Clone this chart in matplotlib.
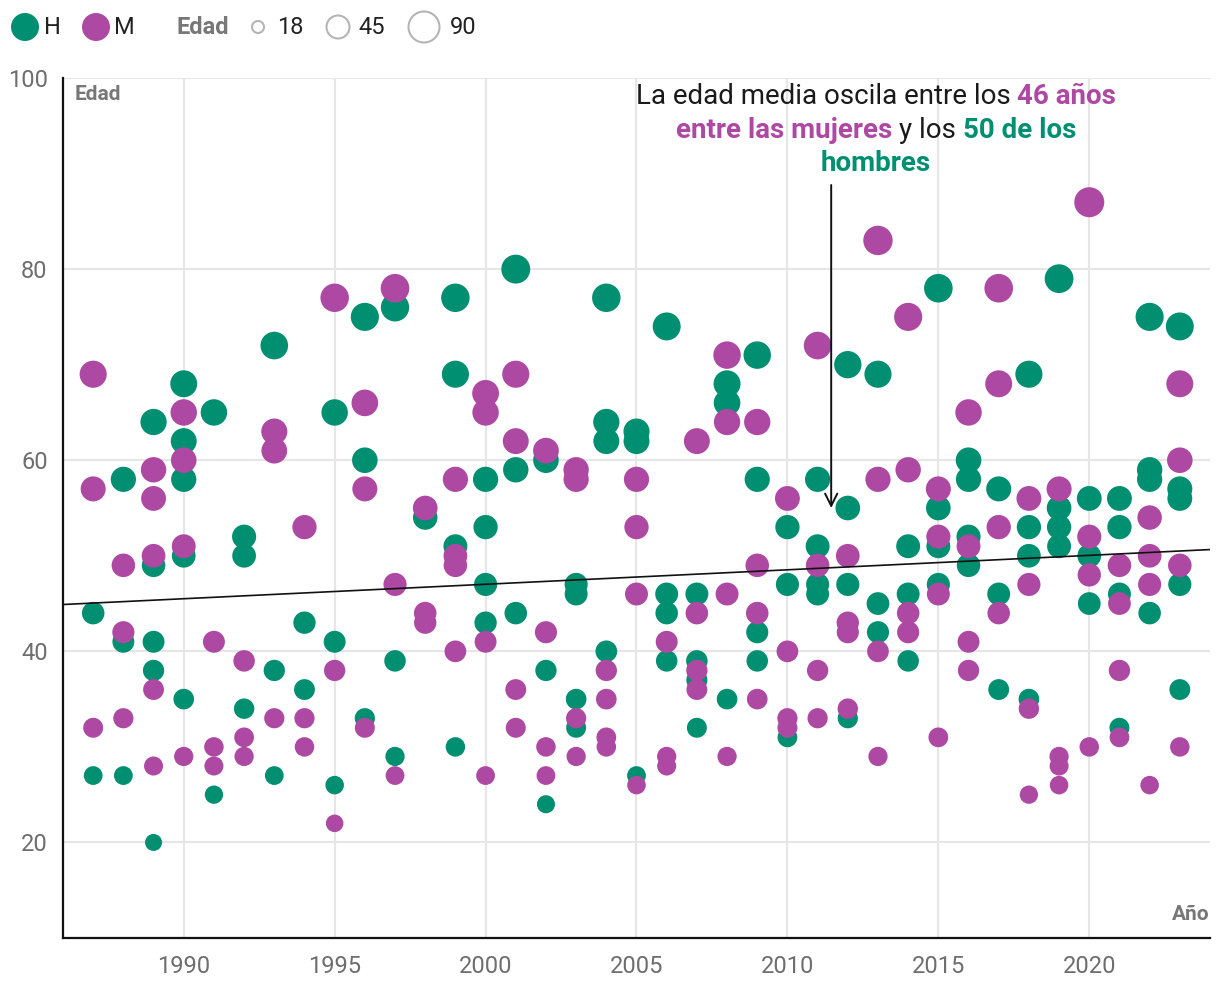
import matplotlib
matplotlib.use("Agg")
import matplotlib.pyplot as plt
import numpy as np

plt.rcParams['font.family'] = ['Roboto', 'DejaVu Sans']

# ---------------- data ----------------
years = [1987, 1988, 1989, 1990, 1991, 1992, 1993, 1994, 1995, 1996, 1997, 1998,
         1999, 2000, 2001, 2002, 2003, 2004, 2005, 2006, 2007, 2008, 2009, 2010,
         2011, 2012, 2013, 2014, 2015, 2016, 2017, 2018, 2019, 2020, 2021, 2022, 2023]

h_ages = [
    [44, 27], [58, 41, 27], [64, 49, 41, 38, 20], [68, 62, 58, 50, 35], [65, 25],
    [52, 50, 34], [72, 38, 27], [43, 36], [65, 41, 26], [75, 60, 33], [76, 39, 29],
    [54], [77, 69, 51, 30], [58, 53, 47, 43], [80, 59, 44], [60, 38, 24],
    [47, 46, 35, 32], [77, 64, 62, 40], [63, 62, 27], [74, 46, 44, 39],
    [46, 39, 37, 32], [68, 66, 35], [71, 58, 42, 39], [53, 47, 31],
    [58, 51, 47, 46], [70, 55, 47, 33], [69, 45, 42], [51, 46, 39],
    [78, 55, 51, 47], [60, 58, 52, 49], [57, 46, 36], [69, 53, 50, 35],
    [79, 55, 53, 51], [56, 50, 45], [56, 53, 46, 32], [75, 59, 58, 44],
    [74, 57, 56, 47, 36],
]

m_ages = [
    [69, 57, 32], [49, 42, 33], [59, 56, 50, 36, 28], [65, 60, 51, 29], [41, 30, 28],
    [39, 31, 29], [63, 61, 33], [53, 33, 30], [77, 38, 22], [66, 57, 32], [78, 47, 27],
    [55, 44, 43], [58, 50, 49, 40], [67, 65, 41, 27], [69, 62, 36, 32],
    [61, 42, 30, 27], [59, 58, 33, 29], [38, 35, 31, 30], [58, 53, 46, 26],
    [41, 29, 28], [62, 44, 38, 36], [71, 64, 46, 29], [64, 49, 44, 35],
    [56, 40, 33, 32], [72, 49, 38, 33], [50, 43, 42, 34], [83, 58, 40, 29],
    [75, 59, 44, 42], [57, 52, 46, 31], [65, 51, 41, 38], [78, 68, 53, 44],
    [56, 47, 34, 25], [57, 29, 28, 26], [87, 52, 48, 30], [49, 45, 38, 31],
    [54, 50, 47, 26], [68, 60, 49, 30],
]

trend_x = [1986, 2024]
trend_y = [44.9, 50.65]

legend_ages = [18, 45, 90]
series_labels = ['H', 'M']
x_ticks = [1990, 1995, 2000, 2005, 2010, 2015, 2020]
y_ticks = [20, 40, 60, 80, 100]

annot_year = 2011.45
annot_from = 88.8
annot_to = 55.0

# ---------------- style ----------------
GREEN = '#008F71'
PURPLE = '#AE49A3'
GRAY_TXT = '#6e6e6e'
GRID = '#e6e6e6'

W, H = 1220, 1008
DPI = 100


def size_of(age):
    # marker area (pt^2) grows linearly with age
    d_px = np.sqrt(9.12 * (np.asarray(age, dtype=float) + 11.7))
    return (d_px * 72.0 / DPI) ** 2


fig = plt.figure(figsize=(W / DPI, H / DPI), dpi=DPI)
ax = fig.add_axes([63 / W, 1 - 938 / H, (1210 - 63) / W, (938 - 78) / H])

ax.set_xlim(1986, 2024)
ax.set_ylim(10, 100)
ax.set_xticks(x_ticks)
ax.set_yticks(y_ticks)
ax.tick_params(axis='both', length=0, labelsize=17, labelcolor=GRAY_TXT)
ax.tick_params(axis='x', pad=12)
ax.tick_params(axis='y', pad=11)
ax.grid(True, color=GRID, linewidth=1.5, zorder=0)
ax.set_axisbelow(True)
for s in ['top', 'right']:
    ax.spines[s].set_visible(False)
for s in ['left', 'bottom']:
    ax.spines[s].set_color('#111111')
    ax.spines[s].set_linewidth(1.6)

hx = [y for y, ages in zip(years, h_ages) for _ in ages]
hy = [a for ages in h_ages for a in ages]
mx = [y for y, ages in zip(years, m_ages) for _ in ages]
my = [a for ages in m_ages for a in ages]

ax.scatter(hx, hy, s=size_of(hy), color=GREEN, edgecolors='none', zorder=3)
ax.scatter(mx, my, s=size_of(my), color=PURPLE, edgecolors='none', zorder=4)

ax.plot(trend_x, trend_y, color='#111111', linewidth=1.2, zorder=5)

ax.annotate('', xy=(annot_year, annot_to), xytext=(annot_year, annot_from),
            arrowprops=dict(arrowstyle='->', color='#111111', lw=1.4,
                            mutation_scale=22, shrinkA=0, shrinkB=0), zorder=6)

# ---------------- overlay in pixel coords ----------------
ov = fig.add_axes([0, 0, 1, 1])
ov.set_xlim(0, W)
ov.set_ylim(H, 0)
ov.axis('off')
ov.patch.set_visible(False)

ov.text(75, 100, 'Edad', fontsize=15, fontweight='bold', color='#777777',
        ha='left', va='baseline')
ov.text(1210, 920, 'Año', fontsize=15, fontweight='bold', color='#777777',
        ha='right', va='baseline')

# legend
cy = 27
ov.scatter([25], [cy], s=(28 * 0.72) ** 2, color=GREEN, edgecolors='none')
ov.text(44, cy, series_labels[0], fontsize=17, color='#222222', ha='left', va='center')
ov.scatter([96], [cy], s=(28 * 0.72) ** 2, color=PURPLE, edgecolors='none')
ov.text(114, cy, series_labels[1], fontsize=17, color='#222222', ha='left', va='center')
ov.text(177, cy, 'Edad', fontsize=17, fontweight='bold', color='#777777',
        ha='left', va='center')
leg_cx = [258, 338, 424]
leg_d = [12, 23, 31]
leg_tx = [277, 358, 450]
for a, cx, d, tx in zip(legend_ages, leg_cx, leg_d, leg_tx):
    ov.scatter([cx], [cy], s=(d * 0.72) ** 2, facecolors='none',
               edgecolors='#b5b5b5', linewidths=1.5)
    ov.text(tx, cy, str(a), fontsize=17, color='#222222', ha='left', va='center')

# multi-coloured annotation text
FS = 20
BLACK = '#1a1a1a'
lines = [
    (103.5, [('La edad media oscila entre los', BLACK, 'normal'),
             ('46 años', PURPLE, 'bold')]),
    (137.5, [('entre las mujeres', PURPLE, 'bold'), ('y los', BLACK, 'normal'),
             ('50 de los', GREEN, 'bold')]),
    (171.0, [('hombres', GREEN, 'bold')]),
]
renderer = fig.canvas.get_renderer()
probe1 = ov.text(0, 0, 'a a', fontsize=FS)
probe2 = ov.text(0, 0, 'aa', fontsize=FS)
space_w = probe1.get_window_extent(renderer).width - probe2.get_window_extent(renderer).width
probe1.remove()
probe2.remove()
CX = 876
for base, pieces in lines:
    objs = [ov.text(0, base, s, color=c, fontweight=w, fontsize=FS,
                    ha='left', va='baseline') for s, c, w in pieces]
    widths = [o.get_window_extent(renderer).width for o in objs]
    total = sum(widths) + space_w * (len(objs) - 1)
    x = CX - total / 2
    for o, wdt in zip(objs, widths):
        o.set_x(x)
        x += wdt + space_w

fig.savefig('out.png', dpi=DPI)
